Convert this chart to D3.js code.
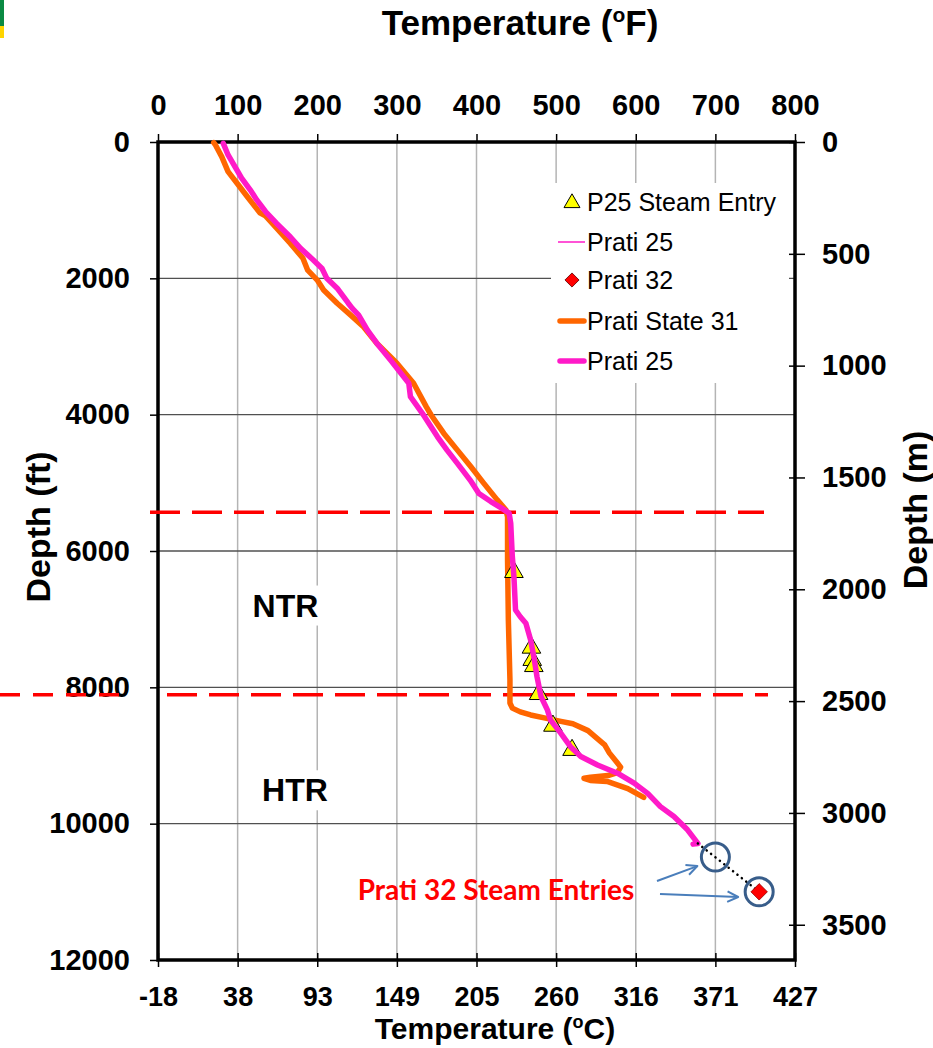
<!DOCTYPE html>
<html>
<head>
<meta charset="utf-8">
<script src="https://cdn.jsdelivr.net/npm/d3@7"></script>
<style>
  body { margin: 0; background: #fff; }
  text { font-family: "Liberation Sans", Arial, sans-serif; }
</style>
</head>
<body>
<div id="canvas"></div>
<script>
// axis ticks
const tempTicksF = [0, 100, 200, 300, 400, 500, 600, 700, 800];
const tempTicksC = ["-18", "38", "93", "149", "205", "260", "316", "371", "427"];
const depthTicksFt = [0, 2000, 4000, 6000, 8000, 10000, 12000];
const depthTicksM = [0, 500, 1000, 1500, 2000, 2500, 3000, 3500];

// Prati State 31 (orange), temperature in F, depth in ft
const prati31Temp = [70, 72, 80, 88, 101, 112, 128, 135, 149, 166, 182, 188, 200, 208, 225, 242, 258, 275, 300, 321,
    337, 343, 359, 376, 393, 409, 426, 437, 439, 439, 440, 442, 442, 445, 455, 468, 488, 506, 521, 540,
    551, 561, 567, 575, 581, 577, 565, 543, 535, 543, 564, 590, 610];
const prati31Depth = [10, 40, 215, 435, 630, 800, 1040, 1085, 1265, 1485, 1705, 1880, 2025, 2170, 2365, 2540, 2710, 2955, 3245, 3540,
    3885, 4005, 4275, 4520, 4765, 5005, 5250, 5400, 5500, 6130, 7010, 7890, 8230, 8305, 8360, 8405, 8455, 8500, 8535, 8635,
    8745, 8845, 8965, 9080, 9170, 9250, 9295, 9320, 9335, 9365, 9380, 9485, 9615];

// Prati 25 (magenta)
const prati25Temp = [82, 88, 99, 105, 116, 124, 135, 149, 166, 179, 195, 206, 212, 225, 239, 244, 252, 263, 275, 292,
    315, 317, 332, 351, 363, 376, 392, 403, 418, 432, 441, 443, 445, 447, 449, 455, 462, 468, 472, 476,
    481, 489, 493, 506, 518, 531, 552, 577, 598, 615, 631, 648, 665, 678, 672];
const prati25Depth = [20, 190, 410, 530, 705, 850, 1020, 1195, 1390, 1560, 1730, 1855, 2000, 2145, 2365, 2440, 2540, 2760, 2955, 3200,
    3540, 3735, 3980, 4325, 4520, 4715, 4960, 5155, 5275, 5375, 5445, 5595, 6085, 6375, 6865, 6965, 7060, 7305, 7550, 7845,
    8135, 8330, 8480, 8675, 8870, 9015, 9140, 9260, 9405, 9555, 9750, 9895, 10090, 10290, 10300];

// P25 steam entries (triangles)
const steamTemp = [447, 469, 470, 472, 478, 496, 520];
const steamDepth = [6310, 7420, 7600, 7690, 8100, 8565, 8920];

// Prati 32 (diamond) and the dotted link from the end of Prati 25
const prati32Temp = [755];
const prati32Depth = [11000];
const linkTemp = [678, 755];
const linkDepth = [10290, 11000];

// Prati 32 steam entry circles
const circleTemp = [700, 755];
const circleDepth = [10490, 11000];

// reservoir boundaries
const zoneDepths = [5430, 8110];
const zoneNames = ["NTR", "HTR"];
const zoneLabelTemp = [160, 172];
const zoneLabelDepth = [6800, 9510];

const orange = "#ff6600";
const magenta = "#ff1ac8";

const svg = d3.select("#canvas").append("svg")
    .attr("width", 933)
    .attr("height", 1048);

const plot = { left: 158, right: 795, top: 142, bottom: 960 };

const x = d3.scaleLinear().domain([0, 800]).range([plot.left, plot.right]);
const y = d3.scaleLinear().domain([0, 12000]).range([plot.top, plot.bottom]);
const yM = d3.scaleLinear().domain([0, 12000 / 3.2808]).range([plot.top, plot.bottom]);

// little logo bars top-left
svg.append("rect").attr("x", 0).attr("y", 0).attr("width", 4).attr("height", 26).attr("fill", "#0a8a43");
svg.append("rect").attr("x", 0).attr("y", 26).attr("width", 4).attr("height", 12).attr("fill", "#ffd500");

// gridlines
svg.append("g").selectAll("line")
    .data(tempTicksF.slice(1, -1))
    .enter().append("line")
    .attr("x1", d => x(d)).attr("x2", d => x(d))
    .attr("y1", plot.top).attr("y2", plot.bottom)
    .attr("stroke", "#b4b4b4").attr("stroke-width", 1.5);

svg.append("g").selectAll("line")
    .data(depthTicksFt.slice(1, -1))
    .enter().append("line")
    .attr("x1", plot.left).attr("x2", plot.right)
    .attr("y1", d => y(d)).attr("y2", d => y(d))
    .attr("stroke", "#505050").attr("stroke-width", 1.4);

// white box behind legend
svg.append("rect").attr("x", 551).attr("y", 183).attr("width", 238).attr("height", 200).attr("fill", "#fff");

// axes
const topAxis = svg.append("g")
    .attr("transform", `translate(0, ${plot.top})`)
    .call(d3.axisTop(x).tickValues(tempTicksF).tickSize(8).tickPadding(19));

const bottomAxis = svg.append("g")
    .attr("transform", `translate(0, ${plot.bottom})`)
    .call(d3.axisBottom(x).tickValues(tempTicksF).tickSize(7).tickPadding(20)
        .tickFormat((d, i) => tempTicksC[i]));

const leftAxis = svg.append("g")
    .attr("transform", `translate(${plot.left}, 0)`)
    .call(d3.axisLeft(y).tickValues(depthTicksFt).tickSize(8).tickPadding(20).tickFormat(d3.format("d")));

const rightAxis = svg.append("g")
    .attr("transform", `translate(${plot.right}, 0)`)
    .call(d3.axisRight(yM).tickValues(depthTicksM).tickSize(10).tickPadding(17).tickFormat(d3.format("d")));

[topAxis, bottomAxis, leftAxis, rightAxis].forEach(g => {
    g.select(".domain").remove();
    g.selectAll("line").attr("stroke", "#000").attr("stroke-width", 1.5);
    g.selectAll("text")
        .attr("fill", "#000")
        .style("font-size", "29px")
        .style("font-weight", "bold");
});
bottomAxis.selectAll("line").attr("y1", -7);
rightAxis.selectAll("line").attr("x1", -6);
bottomAxis.selectAll("text").style("font-size", "27px");

// frame
svg.append("rect")
    .attr("x", plot.left).attr("y", plot.top)
    .attr("width", plot.right - plot.left).attr("height", plot.bottom - plot.top)
    .attr("fill", "none").attr("stroke", "#000").attr("stroke-width", 3.5);

// zone labels
zoneNames.forEach((name, i) => {
    const cx = x(zoneLabelTemp[i]), cy = y(zoneLabelDepth[i]);
    svg.append("rect")
        .attr("x", cx - 46).attr("y", cy - 20).attr("width", 92).attr("height", 40)
        .attr("fill", "#fff");
    svg.append("text")
        .attr("x", cx).attr("y", cy + 11)
        .attr("text-anchor", "middle")
        .style("font-size", "32px").style("font-weight", "bold")
        .text(name);
});

// red dashed reservoir boundaries
svg.append("line")
    .attr("x1", 150).attr("x2", 764)
    .attr("y1", y(zoneDepths[0])).attr("y2", y(zoneDepths[0]))
    .attr("stroke", "#ff0000").attr("stroke-width", 3.5).attr("stroke-dasharray", "30,12");
svg.append("line")
    .attr("x1", 0).attr("x2", 130)
    .attr("y1", y(zoneDepths[1])).attr("y2", y(zoneDepths[1]))
    .attr("stroke", "#ff0000").attr("stroke-width", 3.5).attr("stroke-dasharray", "20,13");
svg.append("line")
    .attr("x1", 167).attr("x2", 768)
    .attr("y1", y(zoneDepths[1])).attr("y2", y(zoneDepths[1]))
    .attr("stroke", "#ff0000").attr("stroke-width", 3.5).attr("stroke-dasharray", "30,12");

// curves
const line = d3.line().x(d => x(d[0])).y(d => y(d[1]));

svg.append("path")
    .datum(d3.zip(prati31Temp, prati31Depth))
    .attr("d", line)
    .attr("fill", "none").attr("stroke", orange).attr("stroke-width", 5.5)
    .attr("stroke-linejoin", "round").attr("stroke-linecap", "round");

const triangle = d3.symbol().type(d3.symbolTriangle).size(150);
svg.append("g").selectAll("path")
    .data(d3.zip(steamTemp, steamDepth))
    .enter().append("path")
    .attr("d", triangle)
    .attr("transform", d => `translate(${x(d[0])}, ${y(d[1])})`)
    .attr("fill", "#ffff00").attr("stroke", "#000").attr("stroke-width", 1);

svg.append("path")
    .datum(d3.zip(prati25Temp, prati25Depth))
    .attr("d", line)
    .attr("fill", "none").attr("stroke", magenta).attr("stroke-width", 5.5)
    .attr("stroke-linejoin", "round").attr("stroke-linecap", "round");

// dotted link to Prati 32
svg.append("path")
    .datum(d3.zip(linkTemp, linkDepth))
    .attr("d", line)
    .attr("fill", "none").attr("stroke", "#000").attr("stroke-width", 2.5)
    .attr("stroke-linecap", "round").attr("stroke-dasharray", "0.1,5.5");

const diamond = d3.symbol().type(d3.symbolSquare).size(135);
svg.append("g").selectAll("path")
    .data(d3.zip(prati32Temp, prati32Depth))
    .enter().append("path")
    .attr("d", diamond)
    .attr("transform", d => `translate(${x(d[0])}, ${y(d[1])}) rotate(45)`)
    .attr("fill", "#ff0000").attr("stroke", "#900").attr("stroke-width", 0.8);

// steam entry circles
svg.append("g").selectAll("circle")
    .data(d3.zip(circleTemp, circleDepth))
    .enter().append("circle")
    .attr("cx", d => x(d[0])).attr("cy", d => y(d[1])).attr("r", 14)
    .attr("fill", "none").attr("stroke", "#385d8a").attr("stroke-width", 3);

// arrows
const arrowColor = "#4a7ebb";
function arrow(x1, y1, x2, y2) {
    const a = Math.atan2(y2 - y1, x2 - x1);
    const h = 12, s = 0.45;
    svg.append("line").attr("x1", x1).attr("y1", y1).attr("x2", x2).attr("y2", y2)
        .attr("stroke", arrowColor).attr("stroke-width", 2);
    svg.append("path")
        .attr("d", `M${x2 - h * Math.cos(a - s)},${y2 - h * Math.sin(a - s)} L${x2},${y2} L${x2 - h * Math.cos(a + s)},${y2 - h * Math.sin(a + s)}`)
        .attr("fill", "none").attr("stroke", arrowColor).attr("stroke-width", 2)
        .attr("stroke-linejoin", "round");
}
arrow(657, 881, x(circleTemp[0]) - 18, y(circleDepth[0]) + 9);
arrow(660, 894, x(circleTemp[1]) - 21, 897);

svg.append("text")
    .attr("x", 496).attr("y", 900)
    .attr("text-anchor", "middle")
    .attr("fill", "#ff0000")
    .style("font-family", "Lato, 'Open Sans', sans-serif")
    .style("font-size", "28px").style("font-weight", "bold")
    .text("Prati 32 Steam Entries");

// legend
const legendRows = [202, 242, 280, 321, 361];
const legendLabels = ["P25 Steam Entry", "Prati 25", "Prati 32", "Prati State 31", "Prati 25"];
const legend = svg.append("g");
legend.append("path").attr("d", d3.symbol().type(d3.symbolTriangle).size(110))
    .attr("transform", `translate(572, ${legendRows[0] + 1})`)
    .attr("fill", "#ffff00").attr("stroke", "#000").attr("stroke-width", 1);
legend.append("line").attr("x1", 558).attr("x2", 585).attr("y1", legendRows[1]).attr("y2", legendRows[1])
    .attr("stroke", magenta).attr("stroke-width", 1.5);
legend.append("path").attr("d", d3.symbol().type(d3.symbolSquare).size(100))
    .attr("transform", `translate(572, ${legendRows[2]}) rotate(45)`)
    .attr("fill", "#ff0000").attr("stroke", "#600").attr("stroke-width", 0.8);
legend.append("line").attr("x1", 560).attr("x2", 584).attr("y1", legendRows[3]).attr("y2", legendRows[3])
    .attr("stroke", orange).attr("stroke-width", 5.5).attr("stroke-linecap", "round");
legend.append("line").attr("x1", 560).attr("x2", 584).attr("y1", legendRows[4]).attr("y2", legendRows[4])
    .attr("stroke", magenta).attr("stroke-width", 5.5).attr("stroke-linecap", "round");
legend.selectAll("text")
    .data(legendLabels)
    .enter().append("text")
    .attr("x", 587)
    .attr("y", (d, i) => legendRows[i] + 9)
    .style("font-size", "25px")
    .text(d => d);

// axis titles
const topTitle = svg.append("text")
    .attr("x", 520).attr("y", 35)
    .attr("text-anchor", "middle")
    .style("font-size", "35px").style("font-weight", "bold");
topTitle.append("tspan").text("Temperature (");
topTitle.append("tspan").attr("dy", -13).style("font-size", "21px").text("o");
topTitle.append("tspan").attr("dy", 13).text("F)");

const bottomTitle = svg.append("text")
    .attr("x", 495).attr("y", 1039)
    .attr("text-anchor", "middle")
    .style("font-size", "30px").style("font-weight", "bold");
bottomTitle.append("tspan").text("Temperature (");
bottomTitle.append("tspan").attr("dy", -11).style("font-size", "18px").text("o");
bottomTitle.append("tspan").attr("dy", 11).text("C)");

svg.append("text")
    .attr("transform", "rotate(-90)")
    .attr("x", -527).attr("y", 50)
    .attr("text-anchor", "middle")
    .style("font-size", "34px").style("font-weight", "bold")
    .text("Depth (ft)");

svg.append("text")
    .attr("transform", "rotate(-90)")
    .attr("x", -510).attr("y", 927)
    .attr("text-anchor", "middle")
    .style("font-size", "34px").style("font-weight", "bold")
    .text("Depth (m)");
</script>
</body>
</html>
